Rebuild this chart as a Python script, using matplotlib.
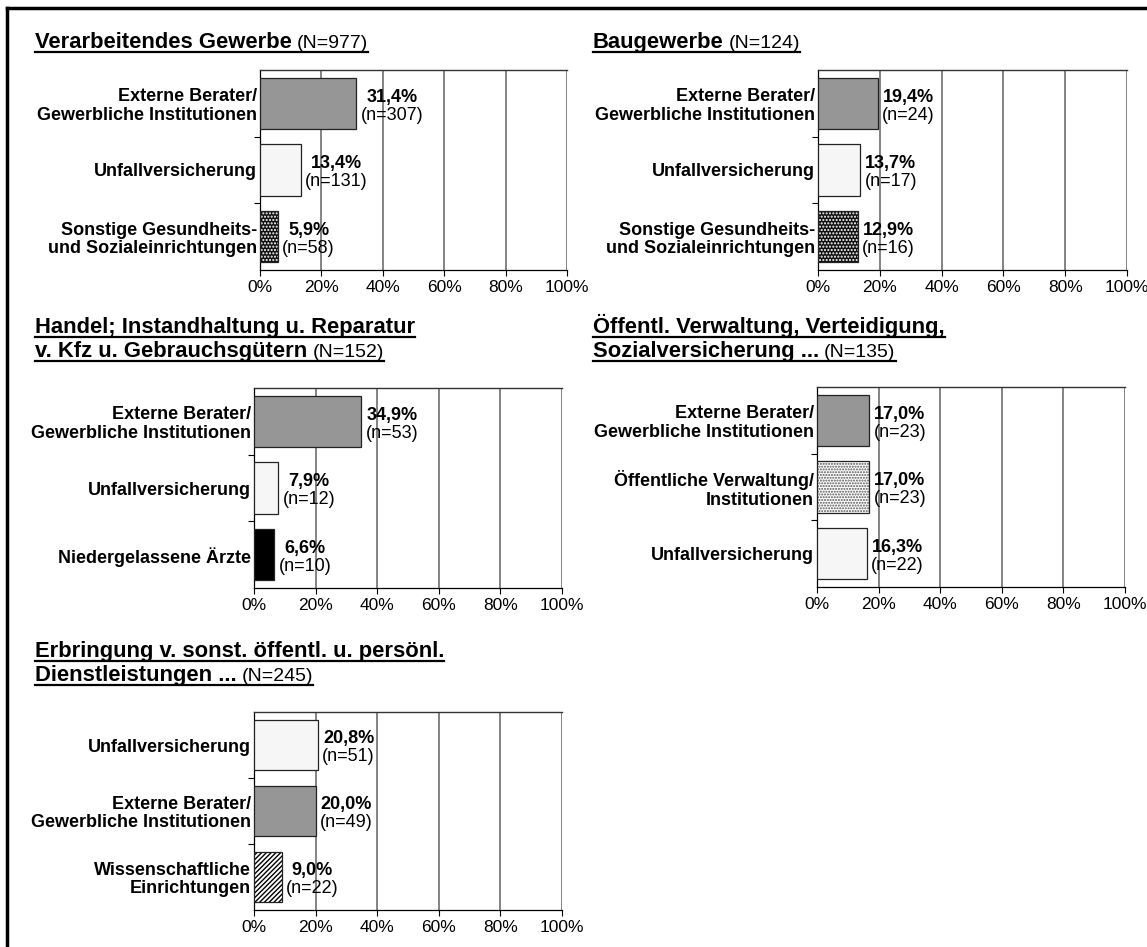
import matplotlib
matplotlib.use("Agg")
import matplotlib.pyplot as plt
from matplotlib.lines import Line2D
from matplotlib.transforms import IdentityTransform, offset_copy

plt.rcParams['font.family'] = ['Liberation Sans', 'DejaVu Sans']
plt.rcParams['hatch.linewidth'] = 1.0

W, H = 1147, 947
DPI = 100

# ---------------- data ----------------
EXT = "Externe Berater/\nGewerbliche Institutionen"
UNF = "Unfallversicherung"

title1 = ["Verarbeitendes Gewerbe"]
total1 = "(N=977)"
cats1 = [EXT, UNF, "Sonstige Gesundheits-\nund Sozialeinrichtungen"]
vals1 = [31.4, 13.4, 5.9]
ns1 = [307, 131, 58]

title2 = ["Baugewerbe"]
total2 = "(N=124)"
cats2 = [EXT, UNF, "Sonstige Gesundheits-\nund Sozialeinrichtungen"]
vals2 = [19.4, 13.7, 12.9]
ns2 = [24, 17, 16]

title3 = ["Handel; Instandhaltung u. Reparatur", "v. Kfz u. Gebrauchsgütern"]
total3 = "(N=152)"
cats3 = [EXT, UNF, "Niedergelassene Ärzte"]
vals3 = [34.9, 7.9, 6.6]
ns3 = [53, 12, 10]

title4 = ["Öffentl. Verwaltung, Verteidigung,", "Sozialversicherung ..."]
total4 = "(N=135)"
cats4 = [EXT, "Öffentliche Verwaltung/\nInstitutionen", UNF]
vals4 = [17.0, 17.0, 16.3]
ns4 = [23, 23, 22]

title5 = ["Erbringung v. sonst. öffentl. u. persönl.", "Dienstleistungen ..."]
total5 = "(N=245)"
cats5 = [UNF, EXT, "Wissenschaftliche\nEinrichtungen"]
vals5 = [20.8, 20.0, 9.0]
ns5 = [51, 49, 22]

xticks = [0, 20, 40, 60, 80, 100]
xticklabels = ["0%", "20%", "40%", "60%", "80%", "100%"]

# ---------------- styles ----------------
STYLE = {
    EXT: dict(face="#969696", hatch=None, hcol=None),
    UNF: dict(face="#f6f6f6", hatch=None, hcol=None),
    "Sonstige Gesundheits-\nund Sozialeinrichtungen": dict(face="#111111", hatch=".....", hcol="#ffffff"),
    "Niedergelassene Ärzte": dict(face="#000000", hatch=None, hcol=None),
    "Öffentliche Verwaltung/\nInstitutionen": dict(face="#ffffff", hatch="......", hcol="#555555"),
    "Wissenschaftliche\nEinrichtungen": dict(face="#ffffff", hatch="///////", hcol="#000000"),
}

fig = plt.figure(figsize=(W / DPI, H / DPI), dpi=DPI)
renderer = fig.canvas.get_renderer()


def px_axes(left, right, top, bottom):
    return fig.add_axes([left / W, 1 - bottom / H, (right - left) / W, (bottom - top) / H])


def fmt(v):
    return f"{v:.1f}".replace(".", ",") + "%"


def draw_panel(box, cats, vals, ns):
    ax = px_axes(*box)
    ypos = list(range(len(cats)))
    for y, c, v in zip(ypos, cats, vals):
        st = STYLE[c]
        if st["hatch"]:
            ax.barh(y, v, height=0.77, color=st["face"], edgecolor=st["hcol"],
                    hatch=st["hatch"], linewidth=0, zorder=3)
            ax.barh(y, v, height=0.77, facecolor="none", edgecolor="#222222",
                    linewidth=0.9, zorder=4)
        else:
            ax.barh(y, v, height=0.77, color=st["face"], edgecolor="#222222",
                    linewidth=0.9, zorder=3)
    ax.set_xlim(0, 100)
    ax.set_ylim(len(cats) - 0.5, -0.5)
    ax.set_xticks(xticks)
    ax.set_xticklabels(xticklabels, fontsize=12.5)
    ax.set_yticks(ypos)
    ax.set_yticklabels(cats, fontsize=13, fontweight="bold", linespacing=1.1)
    ax.set_yticks([0.5 + i for i in range(len(cats) - 1)], minor=True)
    ax.tick_params(axis="y", which="major", length=0, pad=2)
    ax.tick_params(axis="y", which="minor", length=4, width=0.8, direction="out")
    ax.tick_params(axis="x", length=4, width=0.8, direction="out", pad=3)
    for lab in ax.get_yticklabels():
        lab.set_multialignment("right")
    for g in xticks[1:]:
        ax.axvline(g, color="#7a7a7a", lw=1.3, zorder=1)
    ax.spines["right"].set_visible(False)
    ax.spines["top"].set_color("#333333")
    ax.spines["top"].set_linewidth(1.0)
    ax.spines["left"].set_linewidth(0.9)
    ax.spines["bottom"].set_linewidth(0.9)
    for y, v, n in zip(ypos, vals, ns):
        tr = offset_copy(ax.transData, fig=fig, x=3, y=-8.5, units="points")
        nt = ax.text(v, y, f"(n={n})", transform=tr, ha="left", va="center",
                     fontsize=13, zorder=5)
        ax.annotate(fmt(v), xy=(0.5, 0.5), xycoords=nt, xytext=(0, 13),
                    textcoords="offset points", ha="center", va="center",
                    fontsize=13, fontweight="bold", zorder=5)
    return ax


def draw_title(x, ybases, lines, total):
    for i, line in enumerate(lines):
        yb = H - ybases[i]
        t = fig.text(x / W, yb / H, line, fontsize=15.8, fontweight="bold",
                     ha="left", va="baseline")
        bb = t.get_window_extent(renderer)
        right = bb.x1
        if i == len(lines) - 1:
            t2 = fig.text((bb.x1 + 5) / W, yb / H, total, fontsize=14,
                          ha="left", va="baseline")
            right = t2.get_window_extent(renderer).x1
        fig.add_artist(Line2D([x, right], [yb - 4, yb - 4], transform=IdentityTransform(),
                              color="black", lw=1.6))


draw_panel((260, 567, 70, 270), cats1, vals1, ns1)
draw_panel((818, 1127, 70, 270), cats2, vals2, ns2)
draw_panel((254, 562, 388, 588), cats3, vals3, ns3)
draw_panel((817, 1125, 387, 587), cats4, vals4, ns4)
draw_panel((254, 562, 712, 910), cats5, vals5, ns5)

draw_title(35, [48], title1, total1)
draw_title(593, [48], title2, total2)
draw_title(35, [333, 357], title3, total3)
draw_title(593, [333, 357], title4, total4)
draw_title(35, [657, 681], title5, total5)

# outer frame (top and left edges visible)
fig.add_artist(Line2D([7, W + 5], [H - 8, H - 8], transform=IdentityTransform(), color="black", lw=2.5))
fig.add_artist(Line2D([7, 7], [H - 8, -5], transform=IdentityTransform(), color="black", lw=2.5))

fig.savefig("out.png", dpi=DPI, facecolor="white")
